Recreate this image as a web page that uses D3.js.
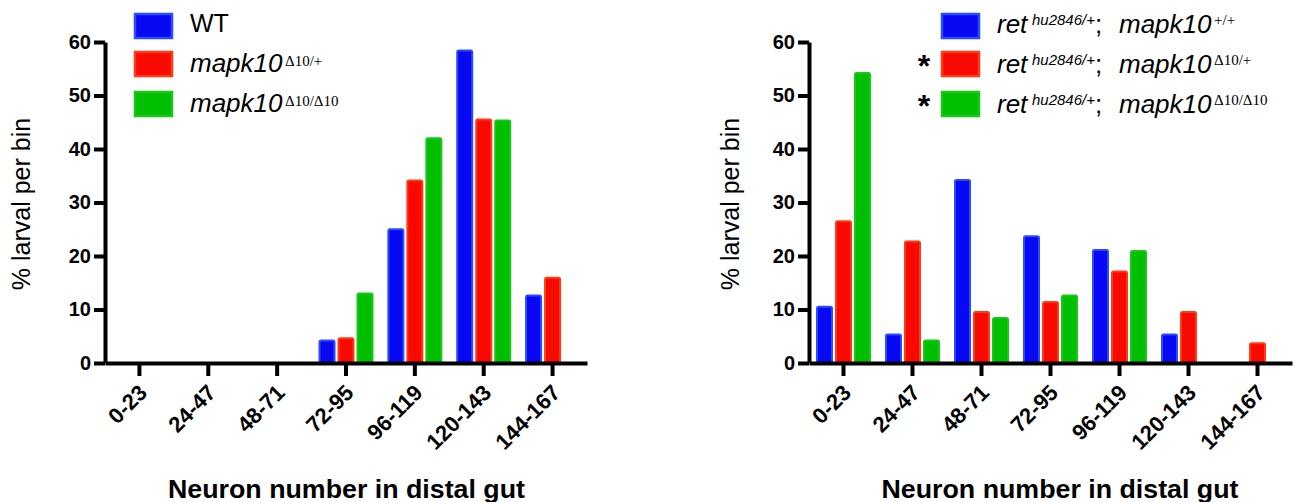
<!DOCTYPE html>
<html><head><meta charset="utf-8">
<script src="https://cdn.jsdelivr.net/npm/d3@7"></script>
<style>body{margin:0;background:#fff} svg{display:block}</style>
</head><body>
<svg id="chart" width="1298" height="502"></svg>
<script>
// ---------- data ----------
const categories = ["0-23","24-47","48-71","72-95","96-119","120-143","144-167"];
const yTicks = [0,10,20,30,40,50,60];
const seriesKeys = ["a","b","c"];
const leftWT  = [0,0,0,4.4,25.2,58.6,12.8];
const leftHet = [0,0,0,4.8,34.3,45.7,16.1];
const leftHom = [0,0,0,13.2,42.2,45.5,0];
const rightWT  = [10.7,5.5,34.4,23.9,21.3,5.5,0];
const rightHet = [26.7,22.9,9.7,11.6,17.3,9.7,3.9];
const rightHom = [54.4,4.4,8.6,12.8,21.1,0,0];
const leftLegendMain = ["WT","mapk10","mapk10"];
const leftLegendSup  = ["","Δ10/+","Δ10/Δ10"];
const rightLegendSup = ["+/+","Δ10/+","Δ10/Δ10"];
const rightLegendStar = ["","*","*"];
const retSup = "hu2846/+";
const xTitle = "Neuron number in distal gut";
const yTitle = "% larval per bin";

const fills   = ["#0808f2","#f80a00","#00bf00"];
const strokes = ["#2a4cff","#ff3a14","#18c818"];

const svg = d3.select("#chart");
const FONT = "Arial, 'Liberation Sans', sans-serif";
const SERIF = "'Liberation Serif','Times New Roman',serif";

function panel(opt){
  const g = svg.append("g");
  const x = d3.scaleBand().domain(categories).range([opt.x0, opt.x1]).paddingInner(0).paddingOuter(0);
  const y = d3.scaleLinear().domain([0,60]).range([363,42]);
  const xs = d3.scaleBand().domain(seriesKeys).range([-27.5,27.5]).paddingInner(0.105);
  const series = [opt.a, opt.b, opt.c];

  series.forEach((vals, si) => {
    g.append("g").selectAll("rect")
      .data(vals.map((v,i)=>({v, c:categories[i]})).filter(d=>d.v>0))
      .join("rect")
      .attr("x", d => x(d.c) + x.bandwidth()/2 + xs(seriesKeys[si]) + 1)
      .attr("width", xs.bandwidth() - 2)
      .attr("y", d => y(d.v) + 1)
      .attr("height", d => y(0) - y(d.v))
      .attr("rx", 1.5)
      .attr("fill", fills[si])
      .attr("stroke", strokes[si])
      .attr("stroke-width", 2);
  });

  const ya = g.append("g").attr("transform", `translate(${opt.x0},0)`)
    .call(d3.axisLeft(y).tickValues(yTicks).tickSize(11).tickSizeOuter(0).tickPadding(3));
  ya.select(".domain").attr("stroke","#000").attr("stroke-width",4);
  ya.selectAll(".tick line").attr("stroke","#000").attr("stroke-width",4);
  ya.selectAll(".tick text").attr("font-family",FONT).attr("font-size",20)
    .attr("font-weight","bold").attr("fill","#000");

  const xa = g.append("g").attr("transform", `translate(0,${y(0)})`)
    .call(d3.axisBottom(x).tickSize(13).tickSizeOuter(0));
  xa.select(".domain").attr("stroke","#000").attr("stroke-width",4);
  xa.selectAll(".tick line").attr("stroke","#000").attr("stroke-width",4);
  xa.selectAll(".tick text").attr("font-family",FONT).attr("font-size",22)
    .attr("font-weight","bold").attr("fill","#000")
    .attr("x",0).attr("y",0).attr("dy",0)
    .attr("text-anchor","end")
    .attr("transform","translate(9,31) rotate(-45)");

  g.append("text").attr("x", opt.titleX).attr("y", 498).attr("text-anchor","middle")
    .attr("font-family",FONT).attr("font-size",25).attr("font-weight","bold")
    .attr("textLength",357).attr("lengthAdjust","spacingAndGlyphs").text(xTitle);
  g.append("text").attr("transform", `translate(${opt.yTitleX},204) rotate(-90)`)
    .attr("text-anchor","middle").attr("font-family",FONT).attr("font-size",25)
    .text(yTitle);
  return g;
}

panel({x0:105, x1:587, a:leftWT, b:leftHet, c:leftHom, titleX:346.5, yTitleX:30});
panel({x0:809, x1:1292, a:rightWT, b:rightHet, c:rightHom, titleX:1060, yTitleX:739});

// ---------- legends ----------
const rowTop = [13, 51, 91];
const rowBase = [33, 73, 113];
function swatch(x, i){
  svg.append("rect").attr("x",x+1).attr("y",rowTop[i]+1).attr("width",37).attr("height",24)
    .attr("fill",fills[i]).attr("stroke",strokes[i]).attr("stroke-width",2.5);
}
leftLegendMain.forEach((t,i)=>{
  swatch(134,i);
  const tx = svg.append("text").attr("x",190).attr("y",rowBase[i]-1)
    .attr("font-family",FONT).attr("font-size",i===0?25:26);
  if(i===0){ tx.text(t); }
  else {
    tx.attr("font-style","italic").text(t);
    svg.append("text").attr("x",285).attr("y",rowBase[i]-7)
      .attr("font-family",SERIF).attr("font-size",15)
      .text(leftLegendSup[i]);
  }
});
rightLegendSup.forEach((s,i)=>{
  swatch(941,i);
  if(rightLegendStar[i]) svg.append("text").attr("x",924).attr("y",rowBase[i]+4)
    .attr("text-anchor","middle").attr("font-family",FONT).attr("font-size",32).attr("font-weight","bold")
    .text(rightLegendStar[i]);
  svg.append("text").attr("x",997).attr("y",rowBase[i])
    .attr("font-family",FONT).attr("font-size",26).attr("font-style","italic").text("ret");
  svg.append("text").attr("x",1032).attr("y",rowBase[i]-8)
    .attr("font-family",FONT).attr("font-size",15).attr("font-style","italic").text(retSup);
  svg.append("text").attr("x",1095).attr("y",rowBase[i])
    .attr("font-family",FONT).attr("font-size",26).text(";");
  svg.append("text").attr("x",1119).attr("y",rowBase[i])
    .attr("font-family",FONT).attr("font-size",26).attr("font-style","italic").text("mapk10");
  svg.append("text").attr("x",1214).attr("y",rowBase[i]-8)
    .attr("font-family",SERIF).attr("font-size",15)
    .text(s);
});
</script>
</body></html>
